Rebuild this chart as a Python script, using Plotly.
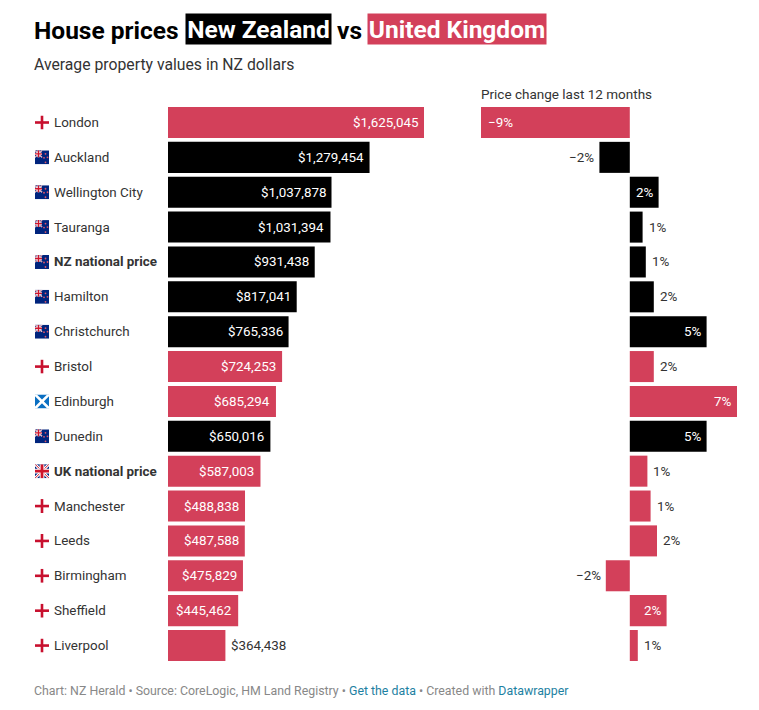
import base64
import plotly.graph_objects as go

# ---- data ----
names = ["London", "Auckland", "Wellington City", "Tauranga", "NZ national price", "Hamilton",
         "Christchurch", "Bristol", "Edinburgh", "Dunedin", "UK national price", "Manchester",
         "Leeds", "Birmingham", "Sheffield", "Liverpool"]
prices = [1625045, 1279454, 1037878, 1031394, 931438, 817041, 765336, 724253, 685294, 650016,
          587003, 488838, 487588, 475829, 445462, 364438]
changes = [-9.3, -1.9, 1.8, 0.8, 1.0, 1.5, 4.8, 1.5, 6.7, 4.8, 1.1, 1.3, 1.7, -1.5, 2.3, 0.5]
change_labels = ["−9%", "−2%", "2%", "1%", "1%", "2%", "5%", "2%", "7%", "5%", "1%", "1%", "2%", "−2%", "2%", "1%"]
flags = ["eng", "nz", "nz", "nz", "nz", "nz", "nz", "eng", "sco", "nz", "uk", "eng", "eng", "eng", "eng", "eng"]
price_inside = [True] * 15 + [False]
change_inside = [True, False, True, False, False, False, True, False, True, True, False, False, False, False, True, False]

# ---- style ----
# the page body adds an 8px margin, so the figure is 8px smaller and all layout offsets are reduced by 8
M = 8
W, H = 759 - M, 710 - M
RED, BLACK = "#d3405a", "#000000"
TEXT = "#333333"
FONT = "Roboto"
colors = [BLACK if f == "nz" else RED for f in flags]
rows = list(range(len(names)))
xp = lambda px: (px - M) / W
yp = lambda px: 1 - (px - M) / H


def uj(w, h, white="#ffffff", red="#cf142b", blue="#00247d"):
    return (f'<rect width="{w}" height="{h}" fill="{blue}"/>'
            f'<path d="M0 0L{w} {h}M{w} 0L0 {h}" stroke="{white}" stroke-width="{h*0.2}"/>'
            f'<path d="M0 0L{w} {h}M{w} 0L0 {h}" stroke="{red}" stroke-width="{h*0.07}"/>'
            f'<path d="M{w/2} 0V{h}M0 {h/2}H{w}" stroke="{white}" stroke-width="{h*0.34}"/>'
            f'<path d="M{w/2} 0V{h}M0 {h/2}H{w}" stroke="{red}" stroke-width="{h*0.2}"/>')


svg_body = {
    "eng": '<rect x="0" y="5.7" width="14" height="2.6" fill="#c8102e"/><rect x="5.7" y="0" width="2.6" height="14" fill="#c8102e"/>',
    "nz": '<rect width="14" height="14" fill="#00247d"/>' + uj(7, 7) +
          ''.join(f'<circle cx="{x}" cy="{y}" r="0.9" fill="#e0566a"/>'
                  for x, y in [(10.5, 3.5), (9, 7.5), (12.5, 7), (10.5, 12)]),
    "sco": '<rect width="14" height="14" fill="#0a6fc2"/><path d="M0 0L14 14M14 0L0 14" stroke="#fff" stroke-width="2.6"/>',
    "uk": uj(14, 14),
}


def flag_uri(k):
    s = f'<svg xmlns="http://www.w3.org/2000/svg" width="14" height="14" viewBox="0 0 14 14">{svg_body[k]}</svg>'
    return "data:image/svg+xml;base64," + base64.b64encode(s.encode()).decode()


fig = go.Figure()
fig.add_trace(go.Bar(x=prices, y=rows, orientation="h", marker=dict(color=colors, line_width=0),
                     xaxis="x", yaxis="y", hoverinfo="skip"))
fig.add_trace(go.Bar(x=changes, y=rows, orientation="h", marker=dict(color=colors, line_width=0),
                     xaxis="x2", yaxis="y2", hoverinfo="skip"))

ann = []


def A(**k):
    k.setdefault("showarrow", False)
    ann.append(k)


for i, n in enumerate(names):
    label = f"<b>{n}</b>" if "national" in n else n
    A(text=label, x=xp(52), xref="paper", y=i, yref="y", xanchor="left", yanchor="middle",
      font=dict(family=FONT, size=13.4, color=TEXT))
    price_text = f"${prices[i]:,}"
    if price_inside[i]:
        A(text=price_text, x=prices[i], xref="x", y=i, yref="y", xanchor="right", xshift=-4,
          font=dict(family=FONT, size=13.4, color="#ffffff"))
    else:
        A(text=price_text, x=prices[i], xref="x", y=i, yref="y", xanchor="left", xshift=4,
          font=dict(family=FONT, size=13.4, color=TEXT))
    v = changes[i]
    if change_inside[i]:
        A(text=change_labels[i], x=v, xref="x2", y=i, yref="y2",
          xanchor="right" if v > 0 else "left", xshift=-3 if v > 0 else 5,
          font=dict(family=FONT, size=13.4, color="#ffffff"))
    else:
        A(text=change_labels[i], x=v, xref="x2", y=i, yref="y2",
          xanchor="left" if v > 0 else "right", xshift=4 if v > 0 else -3,
          font=dict(family=FONT, size=13.4, color=TEXT))

title_font = dict(family=FONT, size=24.5, color="#000000")
A(text="<b>House prices</b>", x=xp(32), y=yp(30), xref="paper", yref="paper", xanchor="left", yanchor="middle", font=title_font)
A(text="<b>New Zealand</b>", x=xp(185), y=yp(29), xref="paper", yref="paper", xanchor="left", yanchor="middle",
  width=145, height=30, bgcolor=BLACK, borderpad=0, align="center", font=dict(family=FONT, size=24.5, color="#ffffff"))
A(text="<b>vs</b>", x=xp(335), y=yp(30), xref="paper", yref="paper", xanchor="left", yanchor="middle", font=title_font)
A(text="<b>United Kingdom</b>", x=xp(367), y=yp(29), xref="paper", yref="paper", xanchor="left", yanchor="middle",
  width=178, height=30, bgcolor=RED, borderpad=0, align="center", font=dict(family=FONT, size=24.5, color="#ffffff"))
A(text="Average property values in NZ dollars", x=xp(32), y=yp(64), xref="paper", yref="paper", xanchor="left", yanchor="middle",
  font=dict(family=FONT, size=15.75, color=TEXT))
A(text="Price change last 12 months", x=xp(479), y=yp(94), xref="paper", yref="paper", xanchor="left", yanchor="middle",
  font=dict(family=FONT, size=13.5, color=TEXT))
link = "#1d81a2"
A(text=f'Chart: NZ Herald • Source: CoreLogic, HM Land Registry • <span style="color:{link}">Get the data</span>'
       f' • Created with <span style="color:{link}">Datawrapper</span>',
  x=xp(32), y=yp(691), xref="paper", yref="paper", xanchor="left", yanchor="middle",
  font=dict(family=FONT, size=12.35, color="#888888"))

images = [dict(source=flag_uri(f), xref="paper", yref="paper", x=xp(35), sizex=14 / W, sizey=14 / H,
               y=yp(122.5 + i * 34.87), xanchor="left", yanchor="middle", sizing="stretch", layer="above")
          for i, f in enumerate(flags)]

top, bottom = 105.07, 662.93
ydom = [yp(bottom), yp(top)]
yax = dict(domain=ydom, range=[15.5, -0.5], visible=False, fixedrange=True)
fig.update_layout(
    width=W, height=H, margin=dict(l=0, r=0, t=0, b=0), autosize=False,
    paper_bgcolor="#ffffff", plot_bgcolor="#ffffff", showlegend=False, bargap=0.11,
    xaxis=dict(domain=[xp(168), xp(424)], range=[0, max(prices)], visible=False, fixedrange=True),
    xaxis2=dict(domain=[xp(481), xp(737)], range=[min(changes), max(changes)], visible=False, fixedrange=True, anchor="y2"),
    yaxis=yax, yaxis2=dict(**yax, anchor="x2"),
    annotations=ann, images=images,
)
fig.write_html("out.html", config=dict(displayModeBar=False))
